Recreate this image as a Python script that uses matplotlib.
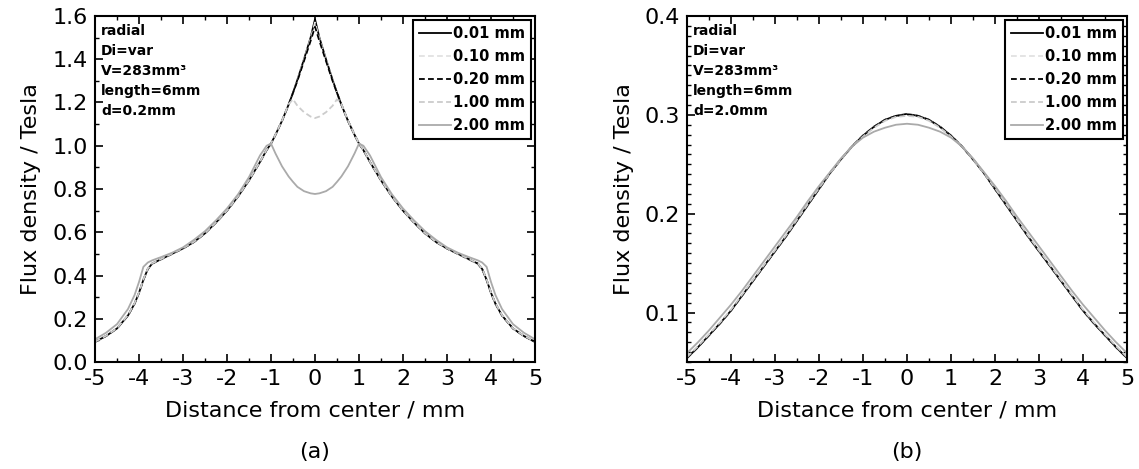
import numpy as np
import matplotlib
matplotlib.use("Agg")
import matplotlib.pyplot as plt
from matplotlib.ticker import MultipleLocator

# ---------------- data: panel (a), d = 0.2 mm ----------------
xa = [-5.0, -4.75, -4.5, -4.25, -4.1, -4.0, -3.9, -3.8, -3.7, -3.5, -3.25, -3.0,
      -2.75, -2.5, -2.25, -2.0, -1.75, -1.5, -1.25, -1.1, -1.0, -0.9, -0.75, -0.6,
      -0.5, -0.4, -0.25, -0.1, 0.0, 0.1, 0.25, 0.4, 0.5, 0.6, 0.75, 0.9, 1.0, 1.1,
      1.25, 1.5, 1.75, 2.0, 2.25, 2.5, 2.75, 3.0, 3.25, 3.5, 3.7, 3.8, 3.9, 4.0,
      4.1, 4.25, 4.5, 4.75, 5.0]

a_001 = [0.093, 0.120, 0.155, 0.215, 0.270, 0.320, 0.380, 0.430, 0.455, 0.475, 0.500, 0.525,
         0.555, 0.595, 0.645, 0.700, 0.765, 0.840, 0.925, 0.980, 1.010, 1.050, 1.115, 1.190,
         1.245, 1.305, 1.400, 1.500, 1.585, 1.500, 1.400, 1.305, 1.245, 1.190, 1.115, 1.050,
         1.010, 0.980, 0.925, 0.840, 0.765, 0.700, 0.645, 0.595, 0.555, 0.525, 0.500, 0.475,
         0.455, 0.430, 0.380, 0.320, 0.270, 0.215, 0.155, 0.120, 0.093]

a_010 = [0.093, 0.120, 0.155, 0.215, 0.270, 0.320, 0.380, 0.430, 0.455, 0.475, 0.500, 0.525,
         0.555, 0.595, 0.645, 0.700, 0.765, 0.840, 0.925, 0.980, 1.010, 1.050, 1.115, 1.190,
         1.245, 1.305, 1.398, 1.495, 1.570, 1.495, 1.398, 1.305, 1.245, 1.190, 1.115, 1.050,
         1.010, 0.980, 0.925, 0.840, 0.765, 0.700, 0.645, 0.595, 0.555, 0.525, 0.500, 0.475,
         0.455, 0.430, 0.380, 0.320, 0.270, 0.215, 0.155, 0.120, 0.093]

a_020 = [0.093, 0.120, 0.155, 0.215, 0.270, 0.320, 0.380, 0.430, 0.455, 0.475, 0.500, 0.525,
         0.555, 0.595, 0.645, 0.700, 0.765, 0.840, 0.925, 0.980, 1.010, 1.050, 1.115, 1.190,
         1.245, 1.300, 1.392, 1.485, 1.550, 1.485, 1.392, 1.300, 1.245, 1.190, 1.115, 1.050,
         1.010, 0.980, 0.925, 0.840, 0.765, 0.700, 0.645, 0.595, 0.555, 0.525, 0.500, 0.475,
         0.455, 0.430, 0.380, 0.320, 0.270, 0.215, 0.155, 0.120, 0.093]

a_100 = [0.094, 0.121, 0.156, 0.217, 0.272, 0.322, 0.382, 0.432, 0.456, 0.476, 0.501, 0.526,
         0.556, 0.596, 0.646, 0.701, 0.766, 0.841, 0.926, 0.981, 1.011, 1.051, 1.116, 1.192,
         1.215, 1.185, 1.155, 1.135, 1.128, 1.135, 1.155, 1.185, 1.215, 1.192, 1.116, 1.051,
         1.011, 0.981, 0.926, 0.841, 0.766, 0.701, 0.646, 0.596, 0.556, 0.526, 0.501, 0.476,
         0.456, 0.432, 0.382, 0.322, 0.272, 0.217, 0.156, 0.121, 0.094]

a_200 = [0.105, 0.135, 0.175, 0.245, 0.310, 0.370, 0.440, 0.460, 0.470, 0.485, 0.505, 0.530,
         0.565, 0.605, 0.655, 0.710, 0.775, 0.855, 0.955, 1.000, 1.010, 0.965, 0.905, 0.858,
         0.833, 0.810, 0.790, 0.780, 0.777, 0.780, 0.790, 0.810, 0.833, 0.858, 0.905, 0.965,
         1.010, 1.000, 0.955, 0.855, 0.775, 0.710, 0.655, 0.605, 0.565, 0.530, 0.505, 0.485,
         0.470, 0.460, 0.440, 0.370, 0.310, 0.245, 0.175, 0.135, 0.105]

# ---------------- data: panel (b), d = 2.0 mm ----------------
xb = [-5.0, -4.75, -4.5, -4.25, -4.0, -3.75, -3.5, -3.25, -3.0, -2.75, -2.5, -2.25, -2.0,
      -1.75, -1.5, -1.25, -1.0, -0.75, -0.5, -0.25, 0.0, 0.25, 0.5, 0.75, 1.0, 1.25, 1.5,
      1.75, 2.0, 2.25, 2.5, 2.75, 3.0, 3.25, 3.5, 3.75, 4.0, 4.25, 4.5, 4.75, 5.0]

b_001 = [0.054, 0.065, 0.077, 0.089, 0.102, 0.117, 0.132, 0.147, 0.162, 0.177, 0.193, 0.209, 0.225,
         0.241, 0.255, 0.268, 0.279, 0.288, 0.295, 0.299, 0.301, 0.299, 0.295, 0.288, 0.279, 0.268,
         0.255, 0.241, 0.225, 0.209, 0.193, 0.177, 0.162, 0.147, 0.132, 0.117, 0.102, 0.089, 0.077,
         0.065, 0.054]

b_010 = [0.054, 0.065, 0.077, 0.089, 0.102, 0.117, 0.132, 0.147, 0.162, 0.177, 0.193, 0.209, 0.225,
         0.241, 0.255, 0.268, 0.279, 0.288, 0.295, 0.299, 0.301, 0.299, 0.295, 0.288, 0.279, 0.268,
         0.255, 0.241, 0.225, 0.209, 0.193, 0.177, 0.162, 0.147, 0.132, 0.117, 0.102, 0.089, 0.077,
         0.065, 0.054]

b_020 = [0.054, 0.065, 0.077, 0.089, 0.102, 0.117, 0.132, 0.147, 0.162, 0.177, 0.193, 0.209, 0.225,
         0.241, 0.255, 0.268, 0.279, 0.288, 0.295, 0.299, 0.3005, 0.299, 0.295, 0.288, 0.279, 0.268,
         0.255, 0.241, 0.225, 0.209, 0.193, 0.177, 0.162, 0.147, 0.132, 0.117, 0.102, 0.089, 0.077,
         0.065, 0.054]

b_100 = [0.055, 0.066, 0.078, 0.090, 0.103, 0.118, 0.133, 0.148, 0.163, 0.178, 0.194, 0.210, 0.226,
         0.241, 0.255, 0.268, 0.278, 0.287, 0.294, 0.298, 0.299, 0.298, 0.294, 0.287, 0.278, 0.268,
         0.255, 0.241, 0.226, 0.210, 0.194, 0.178, 0.163, 0.148, 0.133, 0.118, 0.103, 0.090, 0.078,
         0.066, 0.055]

b_200 = [0.059, 0.070, 0.082, 0.095, 0.108, 0.122, 0.137, 0.152, 0.167, 0.182, 0.197, 0.213, 0.228,
         0.242, 0.256, 0.268, 0.277, 0.283, 0.287, 0.290, 0.291, 0.290, 0.287, 0.283, 0.277, 0.268,
         0.256, 0.242, 0.228, 0.213, 0.197, 0.182, 0.167, 0.152, 0.137, 0.122, 0.108, 0.095, 0.082,
         0.070, 0.059]

labels = ["0.01 mm", "0.10 mm", "0.20 mm", "1.00 mm", "2.00 mm"]
colors = ["#000000", "#e2e2e2", "#000000", "#cccccc", "#aaaaaa"]
styles = ["-", (0, (3.2, 1.8)), (0, (3.2, 1.8)), (0, (3.2, 1.8)), "-"]

x_ticks = [-5, -4, -3, -2, -1, 0, 1, 2, 3, 4, 5]
x_ticklabels = ["-5", "-4", "-3", "-2", "-1", "0", "1", "2", "3", "4", "5"]

notes_a = "radial\nDi=var\nV=283mm³\nlength=6mm\nd=0.2mm"
notes_b = "radial\nDi=var\nV=283mm³\nlength=6mm\nd=2.0mm"

plt.rcParams['font.family'] = ['DejaVu Sans']

fig = plt.figure(figsize=(11.39, 4.69), dpi=100)
W, H = 1139, 469
ax_a = fig.add_axes([95 / W, 1 - 362 / H, 440 / W, 346 / H])
ax_b = fig.add_axes([687 / W, 1 - 362 / H, 440 / W, 346 / H])


def draw(ax, x, series, ylim, ymaj, ymin, yfmt, notes, cap):
    for y, lab, c, ls in zip(series, labels, colors, styles):
        ax.plot(x, y, color=c, linestyle=ls, linewidth=1.3, label=lab)
    ax.set_xlim(-5, 5)
    ax.set_ylim(*ylim)
    ax.set_xticks(x_ticks)
    ax.set_xticklabels(x_ticklabels)
    ax.xaxis.set_minor_locator(MultipleLocator(0.5))
    ax.yaxis.set_major_locator(MultipleLocator(ymaj))
    ax.yaxis.set_minor_locator(MultipleLocator(ymin))
    ax.yaxis.set_major_formatter(matplotlib.ticker.FormatStrFormatter(yfmt))
    ax.tick_params(which='both', direction='in', top=True, right=True, labelsize=16)
    ax.tick_params(which='major', length=6, width=1.2, pad=5)
    ax.tick_params(which='minor', length=3, width=1.0)
    for s in ax.spines.values():
        s.set_linewidth(1.5)
    ax.set_xlabel("Distance from center / mm", fontsize=16, labelpad=8)
    ax.set_ylabel("Flux density / Tesla", fontsize=16, labelpad=8)
    ax.text(0.014, 0.978, notes, transform=ax.transAxes, ha='left', va='top',
            fontsize=10, fontweight='bold', linespacing=1.55)
    leg = ax.legend(loc='upper right', prop={'weight': 'bold', 'size': 10.5},
                    frameon=True, fancybox=False, framealpha=1, edgecolor='black',
                    handlelength=2.2, handletextpad=0.1, borderaxespad=0.3,
                    labelspacing=0.55, borderpad=0.4)
    leg.get_frame().set_linewidth(1.5)
    pos = ax.get_position()
    fig.text(pos.x0 + pos.width / 2, 1 - 452 / H, cap, ha='center', va='center', fontsize=16)


draw(ax_a, xa, [a_001, a_010, a_020, a_100, a_200], (0, 1.6), 0.2, 0.1, '%.1f', notes_a, "(a)")
draw(ax_b, xb, [b_001, b_010, b_020, b_100, b_200], (0.05, 0.4), 0.1, 0.01, '%.1f', notes_b, "(b)")

fig.savefig("out.png", dpi=100)
